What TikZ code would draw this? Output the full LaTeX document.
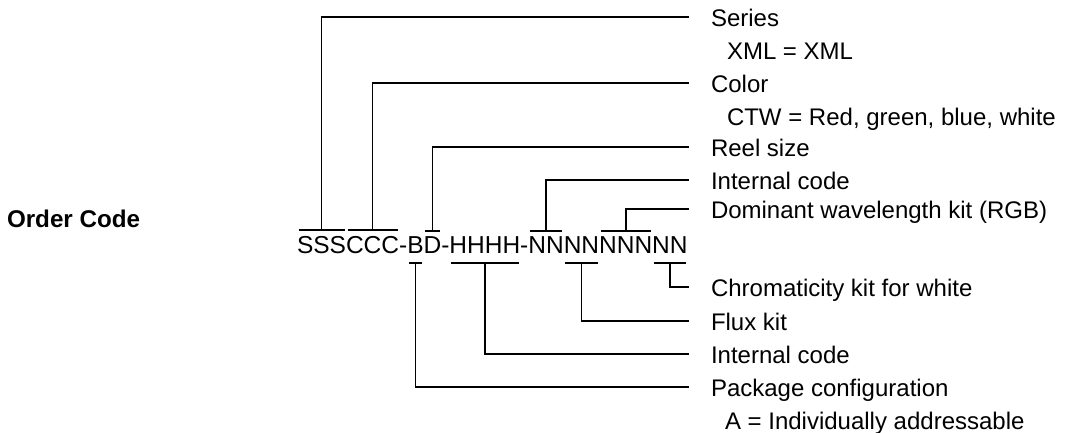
\documentclass[tikz,border=0pt]{standalone}
\usepackage{fontspec}
\setmainfont{Liberation Sans}
\begin{document}
\begin{tikzpicture}[x=1pt,y=-1pt,
  code/.style={anchor=base west,inner sep=0pt,outer sep=0pt,font=\fontsize{24.5}{29}\selectfont},
  lbl/.style={anchor=base west,inner sep=0pt,outer sep=0pt,font=\fontsize{24}{29}\selectfont},
  ttl/.style={anchor=base west,inner sep=0pt,outer sep=0pt,font=\fontsize{24.2}{29}\selectfont\bfseries},
  bar/.style={line width=1.8pt},
  conn/.style={line width=1.8pt}]
\useasboundingbox (0,0) rectangle (1074,432);

% title
\node[ttl] (title) at (7,227) {Order Code};

% code
\node[code] (s)  at (297,253) {SSS};
\node[code] (c)  at (s.base east) {CCC};
\node[code] (m1) at (c.base east) {-};
\node[code] (b)  at (m1.base east) {B};
\node[code] (d)  at (b.base east) {D};
\node[code] (m2) at (d.base east) {-};
\node[code] (h)  at (m2.base east) {HHHH};
\node[code] (m3) at (h.base east) {-};
\node[code] (n1) at (m3.base east) {NN};
\node[code] (n2) at (n1.base east) {NN};
\node[code] (n3) at (n2.base east) {NNN};
\node[code] (n4) at (n3.base east) {NN};

% bars above
\foreach \n in {s,c,d,n1,n3}{
  \draw[bar] ([xshift=1.5pt,yshift=5.5pt]\n.north west) -- ([xshift=-1.5pt,yshift=5.5pt]\n.north east);
}
% bars below
\foreach \n in {b,h,n2,n4}{
  \draw[bar] ([xshift=1.5pt,yshift=-10pt]\n.base west) -- ([xshift=-1.5pt,yshift=-10pt]\n.base east);
}

% line ends
\coordinate (eSeries) at (689,17);
\coordinate (eColor)  at (689,83);
\coordinate (eReel)   at (689,147);
\coordinate (eInt1)   at (689,180);
\coordinate (eDom)    at (689,209);
\coordinate (eChrom)  at (689,287);
\coordinate (eFlux)   at (689,321);
\coordinate (eInt2)   at (689,354);
\coordinate (ePack)   at (689,387);

% connectors
\draw[conn] ([yshift=5.5pt]s.north)  |- (eSeries);
\draw[conn] ([yshift=5.5pt]c.north)  |- (eColor);
\draw[conn] ([yshift=5.5pt]d.north)  |- (eReel);
\draw[conn] ([yshift=5.5pt]n1.north) |- (eInt1);
\draw[conn] ([yshift=5.5pt]n3.north) |- (eDom);
\draw[conn] ([yshift=-10pt]n4.base)  |- (eChrom);
\draw[conn] ([yshift=-10pt]n2.base)  |- (eFlux);
\draw[conn] ([yshift=-10pt]h.base)   |- (eInt2);
\draw[conn] ([yshift=-10pt]b.base)   |- (ePack);

% labels
\node[lbl] (lSeries)  at (711,26) {Series};
\node[lbl] (lSeriesB) at (727,59) {XML = XML};
\node[lbl] (lColor)   at (711,92) {Color};
\node[lbl] (lColorB)  at (727,125) {CTW = Red, green, blue, white};
\node[lbl] (lReel)    at (711,156) {Reel size};
\node[lbl] (lInt1)    at (711,189) {Internal code};
\node[lbl] (lDom)     at (711,218) {Dominant wavelength kit (RGB)};
\node[lbl] (lChrom)   at (711,296) {Chromaticity kit for white};
\node[lbl] (lFlux)    at (711,330) {Flux kit};
\node[lbl] (lInt2)    at (711,363) {Internal code};
\node[lbl] (lPack)    at (711,396) {Package configuration};
\node[lbl] (lPackB)   at (725,429) {A = Individually addressable};
\end{tikzpicture}
\end{document}
